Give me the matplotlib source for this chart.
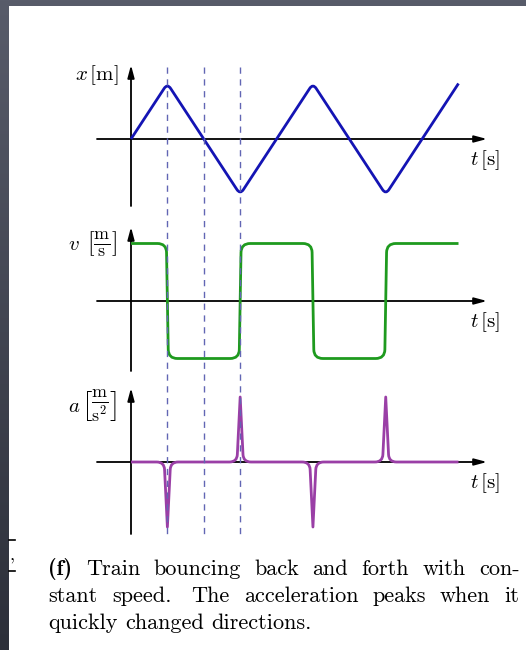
import numpy as np
import matplotlib
matplotlib.use("Agg")
import matplotlib.pyplot as plt
from matplotlib.path import Path
from matplotlib.patches import PathPatch, Rectangle

plt.rcParams["mathtext.fontset"] = "cm"

# ---- data -------------------------------------------------------------
# position: turning points of the triangle wave (time, position)
pos_t = [0, 1, 3, 5, 7, 9]
pos_x = [0, 1, -1, 1, -1, 1]
# velocity: switch times and levels
vel_switch_t = [1, 3, 5, 7]
vel_levels = [1, -1, 1, -1, 1]
vel_t_end = 9
# acceleration: spike times and peak values
acc_spike_t = [1, 3, 5, 7]
acc_spike_h = [-1, 1, -1, 1]
acc_t_end = 9
# dashed guides
guide_t = [1, 2, 3]

caption_lines = [
    ["(f)", "Train", "bouncing", "back", "and", "forth", "with", "con-"],
    ["stant", "speed.", "The", "acceleration", "peaks", "when", "it"],
    ["quickly", "changed", "directions."],
]

# ---- figure -----------------------------------------------------------
W, H = 526, 650
DPI = 100
fig = plt.figure(figsize=(W / DPI, H / DPI), dpi=DPI)

def fx(px):
    return px / W

def fy(py):
    return 1 - py / H

# page background and white sheet
bg = fig.add_axes([0, 0, 1, 1], zorder=-10)
grad = np.linspace(0, 1, 256)[:, None]
top_c = np.array([88, 92, 106]) / 255
bot_c = np.array([44, 47, 57]) / 255
img = top_c[None, None, :] * (1 - grad[..., None]) + bot_c[None, None, :] * grad[..., None]
bg.imshow(np.repeat(img, 4, axis=1), aspect="auto", extent=[0, W, H, 0])
bg.add_patch(Rectangle((9, 6), W - 9, H - 6, facecolor="white", edgecolor="none"))
bg.set_xlim(0, W)
bg.set_ylim(H, 0)
bg.axis("off")

T0_PX = 131.0
T_UNIT = (458.5 - 131.0) / 9.0
X_LEFT, X_RIGHT = 20, 526

def t_of(px):
    return (px - T0_PX) / T_UNIT

def make_panel(top, bottom, zero, unit):
    ax = fig.add_axes([fx(X_LEFT), fy(bottom), fx(X_RIGHT) - fx(X_LEFT), (bottom - top) / H])
    ax.set_xlim(t_of(X_LEFT), t_of(X_RIGHT))
    ax.set_ylim((zero - bottom) / unit, (zero - top) / unit)
    ax.axis("off")
    ax.patch.set_alpha(0)
    return ax

def val(py, zero, unit):
    return (zero - py) / unit

def rounded_path(ax, ts, ys, radii):
    pts = ax.transData.transform(np.column_stack([ts, ys]))
    verts = [pts[0]]
    codes = [Path.MOVETO]
    for i in range(1, len(pts) - 1):
        p, r = pts[i], radii[i]
        if r <= 0:
            verts.append(p)
            codes.append(Path.LINETO)
            continue
        a, b = pts[i - 1], pts[i + 1]
        la, lb = np.linalg.norm(a - p), np.linalg.norm(b - p)
        ra, rb = min(r, la / 2), min(r, lb / 2)
        verts += [p + (a - p) / la * ra, p, p + (b - p) / lb * rb]
        codes += [Path.LINETO, Path.CURVE3, Path.CURVE3]
    verts.append(pts[-1])
    codes.append(Path.LINETO)
    data = ax.transData.inverted().transform(np.array(verts))
    return Path(data, codes)

def draw_axes(ax, zero, unit, y_top_px, y_bot_px):
    t_left = t_of(97)
    t_tip = t_of(487)
    arrow = dict(arrowstyle="-|>,head_length=0.75,head_width=0.2", lw=1.3,
                 color="black", shrinkA=0, shrinkB=0)
    ax.annotate("", xy=(t_tip, 0), xytext=(t_left, 0), arrowprops=arrow)
    ax.annotate("", xy=(0, val(y_top_px, zero, unit)),
                xytext=(0, val(y_bot_px, zero, unit)), arrowprops=arrow)
    ax.text(t_of(470), val(zero + 21, zero, unit), r"$t\,[\mathrm{s}]$",
            fontsize=15, ha="left", va="center")

def unit_label(ax, zero, unit, py, sym, frac):
    ax.text(t_of(80), val(py, zero, unit), sym, fontsize=15,
            ha="right", va="center")
    ax.text(t_of(117), val(py, zero, unit), frac, fontsize=18.5,
            ha="right", va="center")

# panel 1: position
Z1, U1 = 139.0, 55.5
ax1 = make_panel(55, 215, Z1, U1)
draw_axes(ax1, Z1, U1, 65, 206)
p1 = rounded_path(ax1, pos_t, pos_x, [0] + [6] * (len(pos_t) - 2) + [0])
ax1.add_patch(PathPatch(p1, fill=False, edgecolor="#1414b4", lw=2.0,
                        capstyle="butt", joinstyle="round", zorder=3))
ax1.text(t_of(118), val(80, Z1, U1), r"$x\,[\mathrm{m}]$", fontsize=15,
         ha="right", va="baseline")

# panel 2: velocity
Z2, U2 = 301.0, 57.5
ax2 = make_panel(220, 380, Z2, U2)
draw_axes(ax2, Z2, U2, 227, 371)
slant = 1.0 / T_UNIT
vt, vv = [0.0], [vel_levels[0]]
for k, s in enumerate(vel_switch_t):
    vt += [s - slant, s + slant]
    vv += [vel_levels[k], vel_levels[k + 1]]
vt.append(vel_t_end)
vv.append(vel_levels[-1])
p2 = rounded_path(ax2, vt, vv, [0] + [9] * (len(vt) - 2) + [0])
ax2.add_patch(PathPatch(p2, fill=False, edgecolor="#1e9a1e", lw=2.0,
                        capstyle="butt", joinstyle="round", zorder=3))
unit_label(ax2, Z2, U2, 244, r"$v$",
           r"$\left[\frac{\mathrm{m}}{\mathrm{s}}\right]$")

# panel 3: acceleration
Z3, U3 = 462.0, 65.0
ax3 = make_panel(382, 540, Z3, U3)
draw_axes(ax3, Z3, U3, 388, 534)
half = 3.2 / T_UNIT
at, av, ar = [0.0], [0.0], [0]
for s, h in zip(acc_spike_t, acc_spike_h):
    at += [s - half, s, s + half]
    av += [0.0, h, 0.0]
    ar += [7.5, 0, 7.5]
at.append(acc_t_end)
av.append(0.0)
ar.append(0)
p3 = rounded_path(ax3, at, av, ar)
ax3.add_patch(PathPatch(p3, fill=False, edgecolor="#9a3fa6", lw=2.0,
                        capstyle="butt", joinstyle="round", zorder=3))
unit_label(ax3, Z3, U3, 406, r"$a$",
           r"$\left[\frac{\mathrm{m}}{\mathrm{s}^2}\right]$")

# dashed guides across all panels
ov = fig.add_axes([fx(X_LEFT), 0, fx(X_RIGHT) - fx(X_LEFT), 1], zorder=5)
ov.set_xlim(t_of(X_LEFT), t_of(X_RIGHT))
ov.set_ylim(H, 0)
ov.axis("off")
ov.patch.set_alpha(0)
for g in guide_t:
    ov.plot([g, g], [67, 535], color="#6266b4", lw=1.0, dashes=(4.5, 4))

# caption text
txt = fig.add_axes([0, 0, 1, 1], zorder=6)
txt.set_xlim(0, W)
txt.set_ylim(H, 0)
txt.axis("off")
txt.patch.set_alpha(0)

CAP_SIZE = 16.0
left_x, right_x = 48.5, 519.5
baselines = [575, 602, 629]
renderer = fig.canvas.get_renderer()
for li, (words, base) in enumerate(zip(caption_lines, baselines)):
    objs = []
    for w in words:
        bold = w == "(f)"
        objs.append(txt.text(0, base, w, fontsize=CAP_SIZE,
                             family="cmb10" if bold else "cmr10",
                             ha="left", va="baseline"))
    widths = [o.get_window_extent(renderer).width for o in objs]
    space = 0.333 * CAP_SIZE * DPI / 72
    extra = [space * (1.4 if words[k].endswith(".") else 1.0)
             for k in range(len(words) - 1)]
    if li < 2:
        stretch = (right_x - left_x - sum(widths)) / sum(extra)
    else:
        stretch = 1.0
    xpos = left_x
    for k, (o, w) in enumerate(zip(objs, widths)):
        o.set_x(xpos)
        if k < len(extra):
            xpos += w + extra[k] * stretch

# marks from the neighbouring column
txt.plot([9, 15], [540, 540], color="black", lw=1.2)
txt.plot([9, 15], [571, 571], color="black", lw=1.2)
txt.text(12, 561, ",", fontsize=13, family="cmr10", ha="center", va="baseline")

fig.savefig("out.png", dpi=DPI)
